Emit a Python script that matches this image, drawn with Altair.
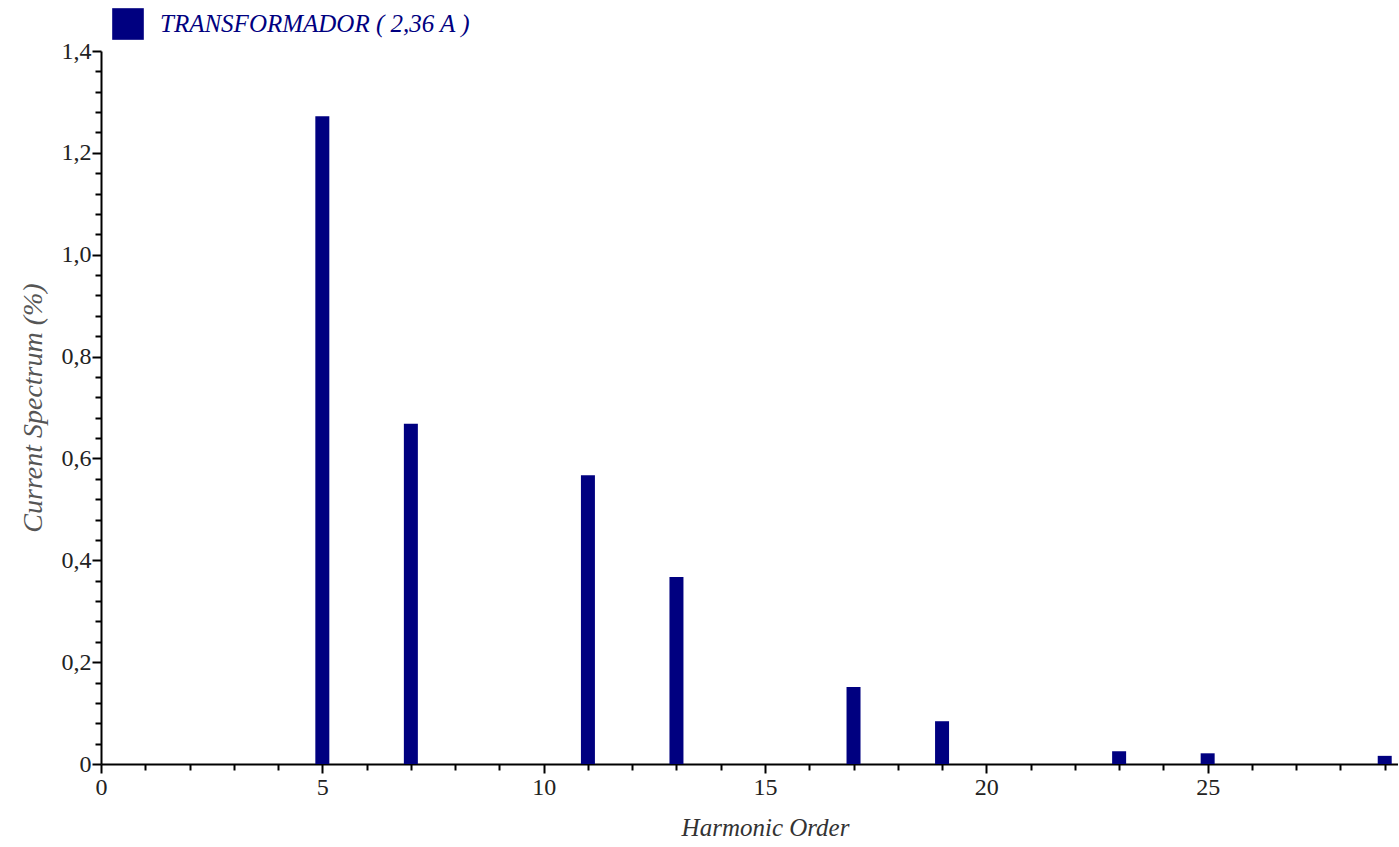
import altair as alt
import pandas as pd

harmonic = [5, 7, 11, 13, 17, 19, 23, 25, 29]
spectrum = [1.272, 0.668, 0.567, 0.367, 0.151, 0.084, 0.025, 0.021, 0.016]
series = "TRANSFORMADOR ( 2,36 A )"

x_ticks = list(range(0, 30))
y_ticks = [round(i * 0.04, 2) for i in range(0, 36)]

df = pd.DataFrame({"h": harmonic, "v": spectrum, "s": [series] * len(harmonic)})

FONT = "Liberation Serif"
NAVY = "#000080"

chart = alt.Chart(df).mark_bar(size=14, color=NAVY).encode(
    x=alt.X("h:Q", title="Harmonic Order",
            scale=alt.Scale(domain=[0, 29.3], nice=False, zero=True, padding=0),
            axis=alt.Axis(values=x_ticks, grid=False,
                          labelExpr="datum.value % 5 == 0 ? datum.value : ''",
                          tickSize={"condition": {"test": "datum.value % 5 == 0", "value": 9}, "value": 6},
                          labelFontSize=24, labelFont=FONT, labelColor="#222222", labelPadding=2,
                          titleFont=FONT, titleFontSize=25, titleFontStyle="italic", titleFontWeight="normal",
                          titleColor="#333333", titlePadding=16, titleX=664, titleAlign="center",
                          domainColor="#000000", domainWidth=2, tickColor="#000000", tickWidth=2,
                          labelFlush=False, labelOverlap=False)),
    y=alt.Y("v:Q", title="Current Spectrum (%)",
            scale=alt.Scale(domain=[0, 1.4], nice=False, padding=0),
            axis=alt.Axis(values=y_ticks, grid=False,
                          labelExpr="round(datum.value*100) % 20 == 0 ? (datum.value == 0 ? '0' : replace(format(datum.value, '.1f'), '.', ',')) : ''",
                          tickSize={"condition": {"test": "round(datum.value*100) % 20 == 0", "value": 9}, "value": 6},
                          labelFontSize=24, labelFont=FONT, labelColor="#222222", labelPadding=1,
                          titleFont=FONT, titleFontSize=28, titleFontStyle="italic", titleFontWeight="normal",
                          titleColor="#555555", titlePadding=14,
                          domainColor="#000000", domainWidth=2, tickColor="#000000", tickWidth=2,
                          labelFlush=False, labelOverlap=False)),
    fill=alt.Fill("s:N", scale=alt.Scale(range=[NAVY]),
                  legend=alt.Legend(title=None, orient="none", legendX=11, legendY=-43,
                                    symbolType="square", symbolSize=1000, symbolStrokeWidth=0,
                                    labelFont=FONT, labelFontSize=25, labelFontStyle="italic",
                                    labelColor=NAVY, labelOffset=16, labelLimit=600)),
).properties(
    width=1297, height=713,
    autosize=alt.AutoSizeParams(type="none"),
    padding={"left": 101, "top": 51, "right": 0, "bottom": 80},
).configure(background="white").configure_view(stroke=None)

chart.save("out.html", embed_options={"renderer": "svg", "actions": False})
